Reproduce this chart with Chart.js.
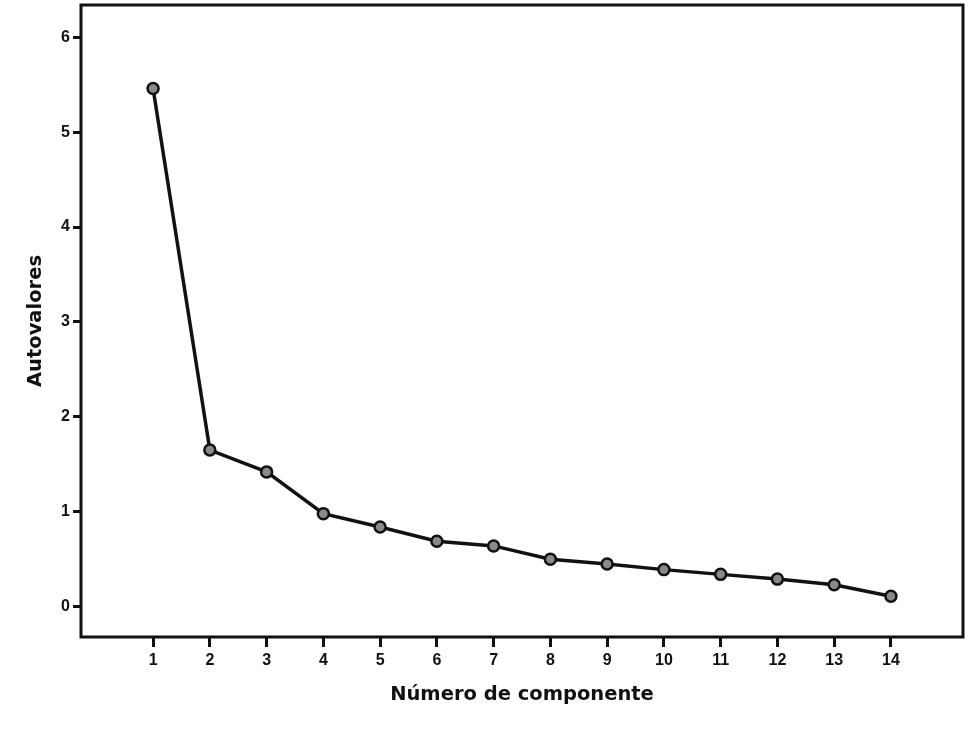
<!DOCTYPE html>
<html>
<head>
<meta charset="utf-8">
<script src="https://cdn.jsdelivr.net/npm/chart.js@4/dist/chart.umd.min.js"></script>
<style>
  html, body { margin: 0; padding: 0; background: #fff; }
  #wrap { width: 975px; height: 731px; position: relative; overflow: hidden; }
  #c { position: absolute; left: 0; top: -3px; }
</style>
</head>
<body>
<div id="wrap"><canvas id="c" width="975" height="734"></canvas></div>
<script>
const components = [1, 2, 3, 4, 5, 6, 7, 8, 9, 10, 11, 12, 13, 14];
const eigenvalues = [5.46, 1.65, 1.42, 0.98, 0.84, 0.69, 0.64, 0.50, 0.45, 0.39, 0.34, 0.29, 0.23, 0.11];
const xTicks = [1, 2, 3, 4, 5, 6, 7, 8, 9, 10, 11, 12, 13, 14];
const yTicks = [0, 1, 2, 3, 4, 5, 6];
const xTitle = 'Número de componente';
const yTitle = 'Autovalores';

const points = components.map((c, i) => ({ x: c, y: eigenvalues[i] }));

const frame = {
  id: 'frame',
  afterDatasetsDraw(chart) {
    const a = chart.chartArea, ctx = chart.ctx;
    ctx.save();
    ctx.strokeStyle = '#111';
    ctx.lineWidth = 3;
    ctx.strokeRect(a.left, a.top, a.right - a.left, a.bottom - a.top);
    ctx.restore();
  }
};

new Chart(document.getElementById('c'), {
  type: 'scatter',
  data: {
    datasets: [{
      data: points,
      showLine: true,
      borderColor: '#111',
      borderWidth: 3.5,
      pointRadius: 5.5,
      pointBorderWidth: 2.5,
      pointBackgroundColor: '#8a8a8a',
      pointBorderColor: '#111',
      tension: 0
    }]
  },
  plugins: [frame],
  options: {
    responsive: false,
    animation: false,
    layout: { padding: { left: 0, top: 0, right: 12, bottom: 0 } },
    plugins: { legend: { display: false }, tooltip: { enabled: false } },
    scales: {
      x: {
        type: 'linear',
        min: -0.27,
        max: 15.27,
        afterBuildTicks: s => { s.ticks = xTicks.map(v => ({ value: v })); },
        afterFit: s => { s.height = 94; s.paddingLeft = 0; s.paddingRight = 0; },
        grid: { display: true, drawOnChartArea: false, drawTicks: true, tickLength: 10, color: '#111', lineWidth: 3 },
        border: { display: false },
        ticks: { color: '#111', padding: 4, maxRotation: 0, autoSkip: false, font: { family: 'Liberation Sans', weight: 'bold', size: 16 } },
        title: { display: true, text: xTitle, color: '#111', padding: { top: 0, bottom: 24 }, font: { family: 'DejaVu Sans', weight: 'bold', size: 19.5 } }
      },
      y: {
        type: 'linear',
        min: -0.32,
        max: 6.34,
        afterBuildTicks: s => { s.ticks = yTicks.map(v => ({ value: v })); },
        afterFit: s => { s.width = 81; s.paddingTop = 0; s.paddingBottom = 0; },
        grid: { display: true, drawOnChartArea: false, drawTicks: true, tickLength: 8, color: '#111', lineWidth: 3 },
        border: { display: false },
        ticks: { color: '#111', padding: 3, font: { family: 'Liberation Sans', weight: 'bold', size: 16 } },
        title: { display: true, text: yTitle, color: '#111', padding: { top: 24, bottom: 0 }, font: { family: 'DejaVu Sans', weight: 'bold', size: 19.5 } }
      }
    }
  }
});
</script>
</body>
</html>
